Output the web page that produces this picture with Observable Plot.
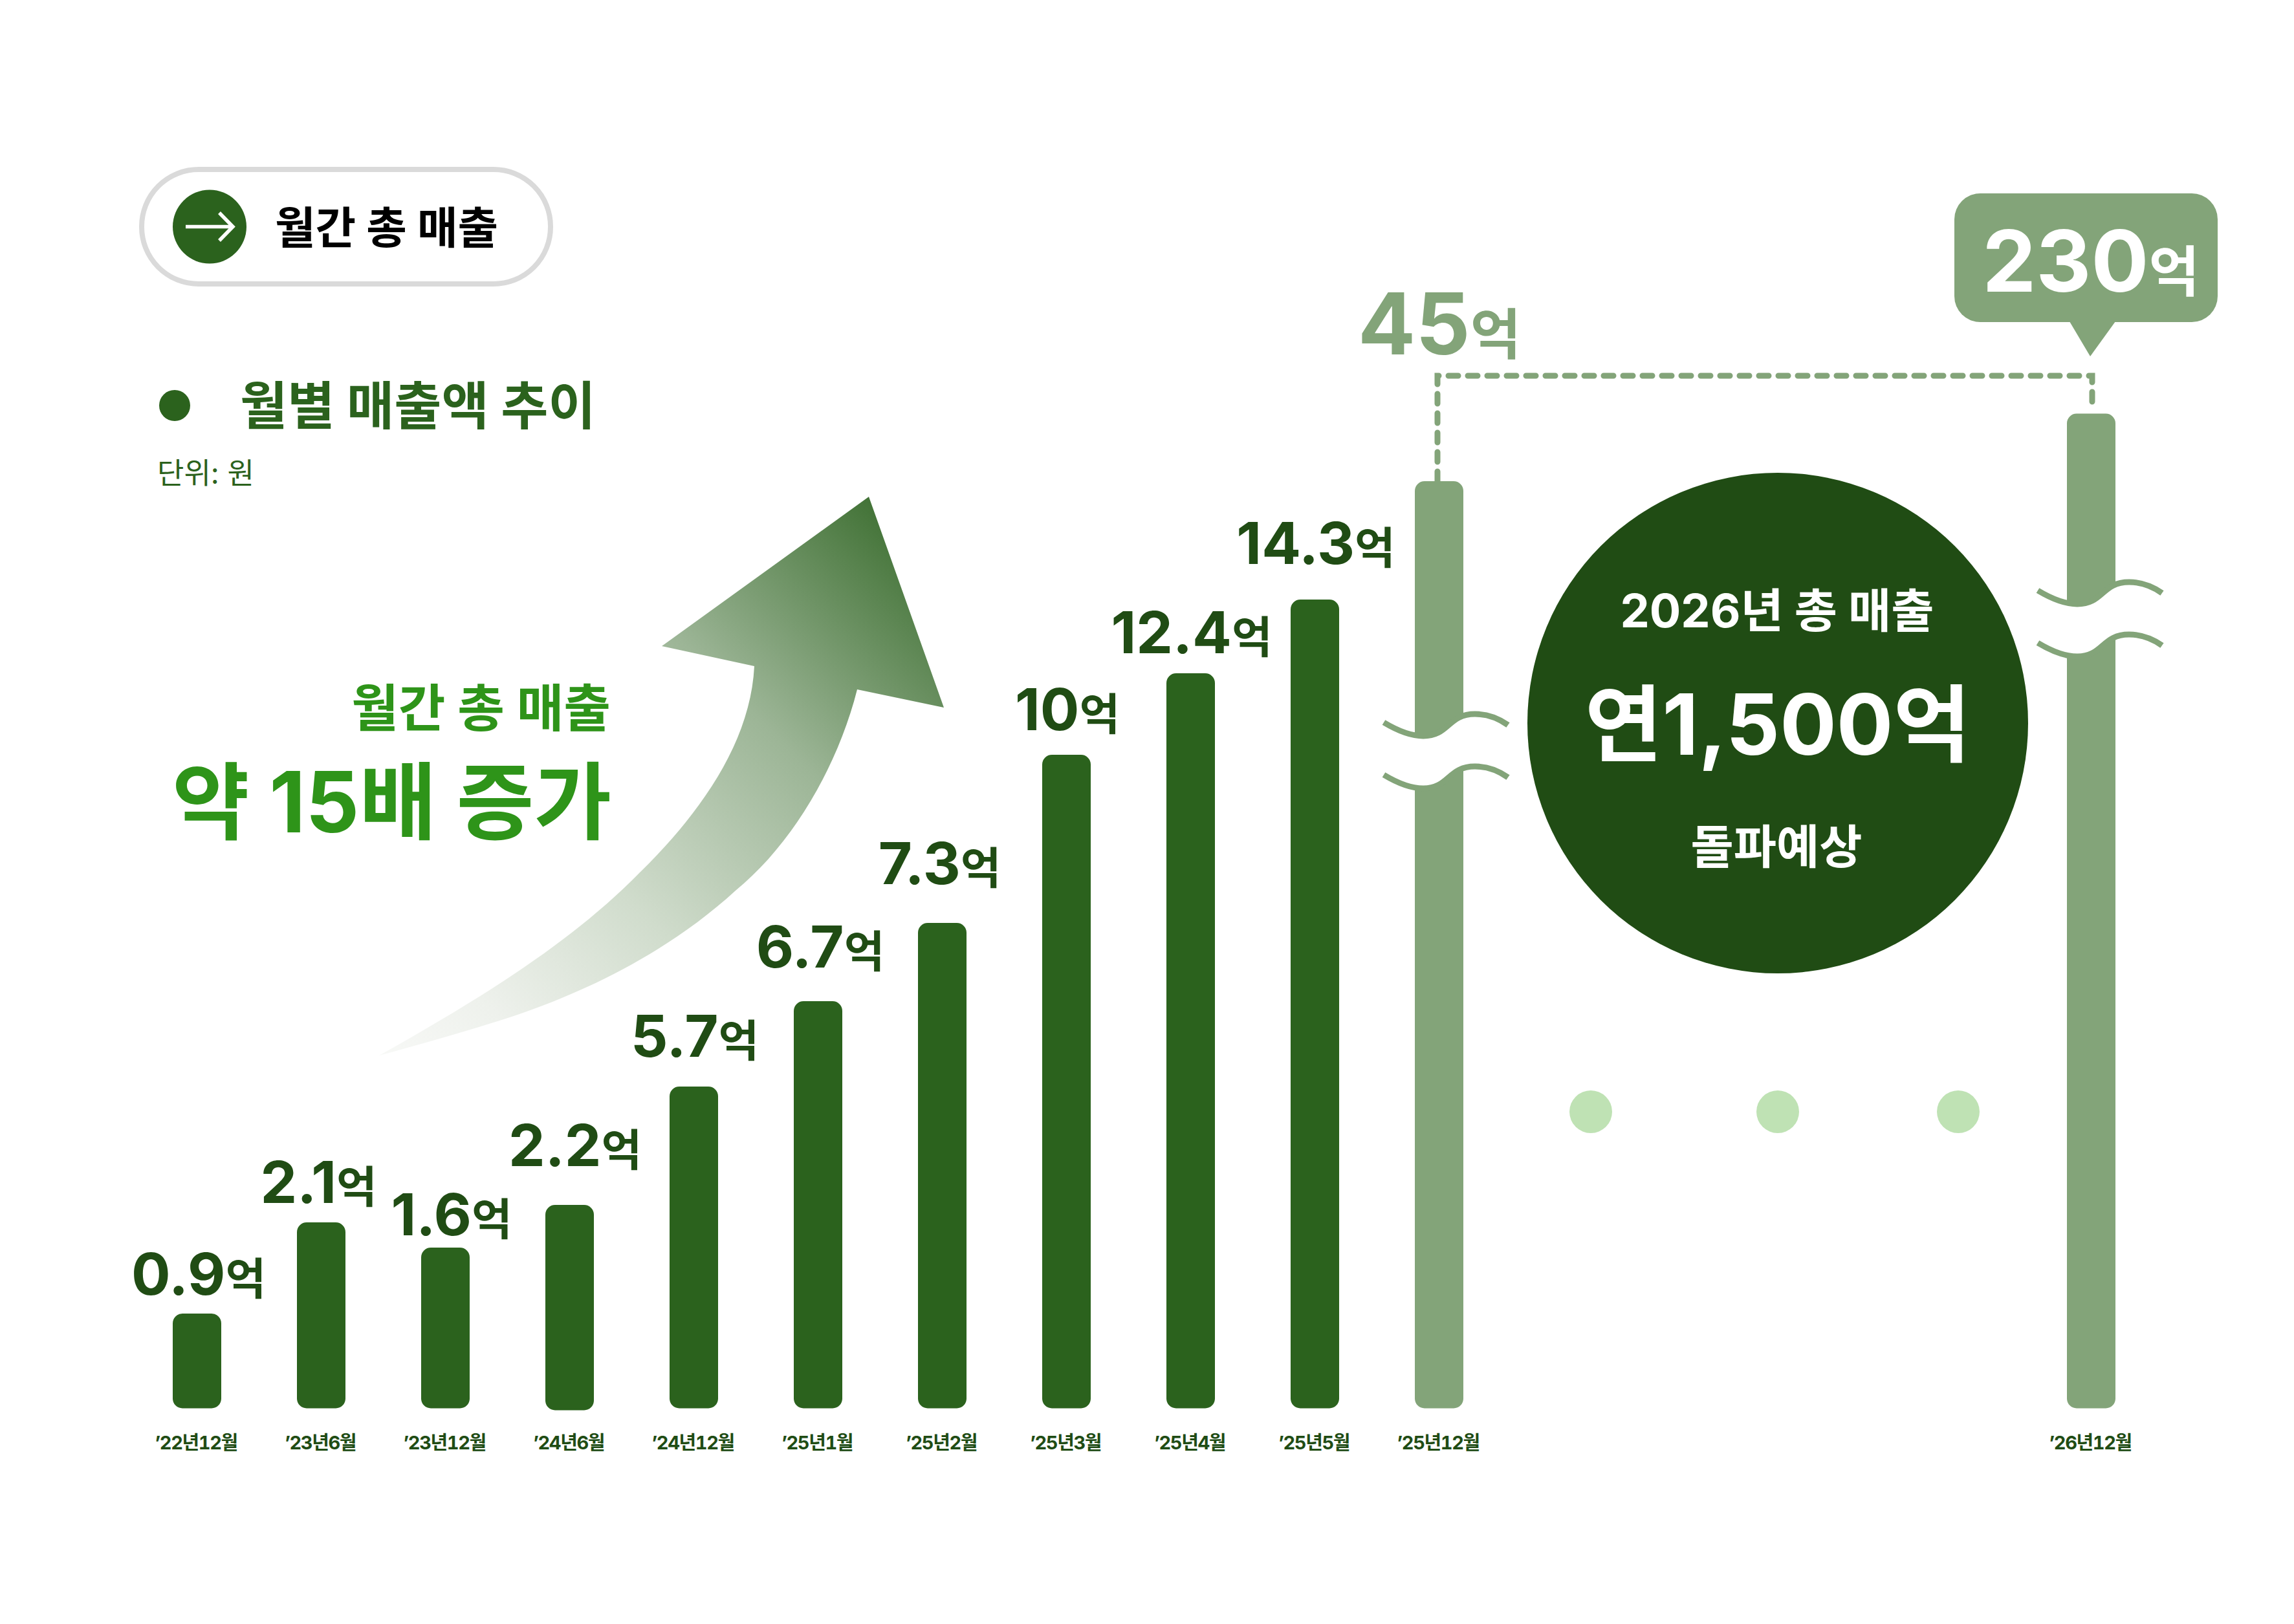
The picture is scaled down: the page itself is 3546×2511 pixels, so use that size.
<!DOCTYPE html>
<html lang="ko">
<head>
<meta charset="utf-8">
<script src="https://cdn.jsdelivr.net/npm/d3@7"></script>
<script src="https://cdn.jsdelivr.net/npm/@observablehq/plot@0.6"></script>
<style>
html,body{margin:0;padding:0;background:#fff}
svg{display:block}
</style>
</head>
<body>
<div id="chart"></div>
<script>
// chart data
const months = ["’22년12월","’23년6월","’23년12월","’24년6월","’24년12월","’25년1월","’25년2월","’25년3월","’25년4월","’25년5월","’25년12월","’26년12월"];
const sales  = [0.9,2.1,1.6,2.2,5.7,6.7,7.3,10,12.4,14.3,45,230];
const salesLabels = ["0.9","2.1","1.6","2.2","5.7","6.7","7.3","10","12.4","14.3","45","230"];
const slots = [0,1,2,3,4,5,6,7,8,9,10,15.25];
const barFloor = [0,0,0,-0.018,0,0,0,0,0,0,0,0];

// the picture's axis is not to scale: stops of the (broken) value axis as read from it
const yStops = [0,0.9,1.6,2.1,2.2,5.7,6.7,7.3,10,12.4,14.3,45,230];
const yStopPixels = [2177.5,2031,1929,1890,1863,1680,1548,1427,1167,1041,927,744,639.5];

// label placement options
const labelLift = [30,31,20,61,47,53,61,39,32,56,0,0];
const labelShift = [2,-4.5,9,8,1,3,-4.5,1,1,1,0,0];

const GREEN="#2b621d", DARK="#204c14", LIGHT="#83a479", ACCENT="#2e9419", PALE="#bfe2b4";
const FONT="Inter, 'Noto Sans CJK KR', sans-serif";

const bars = months.map((m,i)=>({month:m, value:sales[i], label:salesLabels[i], slot:slots[i], floor:barFloor[i], forecast:sales[i]>=45}));
const halfBar = 37.5/192;

function txt(g,x,y,parts,o={}){
  const t=g.append("text").attr("x",x).attr("y",y)
    .attr("font-family",FONT).attr("font-size",o.size).attr("font-weight",o.weight||700)
    .attr("fill",o.fill).attr("text-anchor",o.anchor||"start");
  if(o.spacing!=null) t.attr("letter-spacing",o.spacing);
  [].concat(parts).forEach(p=>{
    if(typeof p==="string") t.append("tspan").text(p);
    else t.append("tspan").attr("font-size",p.size).text(p.t);
  });
  return t;
}

function backdrop(){
  const g=d3.create("svg:g");
  const defs=g.append("defs");
  const grad=defs.append("linearGradient").attr("id","rise").attr("gradientUnits","userSpaceOnUse")
    .attr("x1",1440).attr("y1",830).attr("x2",610).attr("y2",1660);
  grad.append("stop").attr("offset",0).attr("stop-color","#3c6e30");
  grad.append("stop").attr("offset",0.33).attr("stop-color","#9cb596");
  grad.append("stop").attr("offset",0.62).attr("stop-color","#d0dccc");
  grad.append("stop").attr("offset",0.85).attr("stop-color","#eef1ec");
  grad.append("stop").attr("offset",1).attr("stop-color","#f8f9f7");
  g.append("path").attr("fill","url(#rise)")
    .attr("d","M1343 768 L1459 1094 L1325 1066 C1295 1185 1225 1305 1137 1377 C1030 1475 900 1535 797 1570 C720 1595 650 1615 586 1632 C740 1545 880 1460 988 1350 C1080 1260 1160 1150 1166 1030 L1023 999 Z");

  // header pill
  g.append("rect").attr("x",219).attr("y",262).attr("width",632).attr("height",177).attr("rx",88)
    .attr("fill","#fff").attr("stroke","#dadada").attr("stroke-width",8);
  g.append("circle").attr("cx",324).attr("cy",350.5).attr("r",57).attr("fill",GREEN);
  g.append("path").attr("d","M287 350.5 H360 M339 329 L360 350.5 L339 372").attr("fill","none").attr("stroke","#fff").attr("stroke-width",5.5);
  txt(g,425,377,"월간 총 매출",{size:68,fill:"#000"});

  // legend
  g.append("circle").attr("cx",270).attr("cy",627).attr("r",24).attr("fill",GREEN);
  txt(g,371,656,"월별 매출액 추이",{size:79.5,fill:GREEN});
  txt(g,243,748,"단위: 원",{size:45,weight:400,fill:GREEN});

  // growth note
  txt(g,944,1124,"월간 총 매출",{size:79,fill:ACCENT,anchor:"end"});
  txt(g,945,1287,"약 15배 증가",{size:130,fill:ACCENT,anchor:"end"});
  return g.node();
}

function overlay(){
  const g=d3.create("svg:g");
  // dashed connector
  g.append("path").attr("d","M2222 744 V581 H3234 V630").attr("fill","none").attr("stroke",LIGHT)
    .attr("stroke-width",9).attr("stroke-dasharray","15 15").attr("stroke-linecap","round");
  // breaks
  const wave="c20 12 40 21 61 21 c40 0 38 -34 80 -34 c19 0 37 7 51 17";
  for(const [x,y] of [[2139,1117],[3150,913]]){
    g.append("path").attr("d",`M${x} ${y} ${wave} v81 c-14 -10 -32 -17 -51 -17 c-42 0 -40 34 -80 34 c-21 0 -41 -9 -61 -21 Z`).attr("fill","#fff");
    g.append("path").attr("d",`M${x} ${y} ${wave}`).attr("fill","none").attr("stroke",LIGHT).attr("stroke-width",9);
    g.append("path").attr("d",`M${x} ${y+81} ${wave}`).attr("fill","none").attr("stroke",LIGHT).attr("stroke-width",9);
  }
  // callout
  g.append("rect").attr("x",3021).attr("y",299).attr("width",407).attr("height",199).attr("rx",40).attr("fill",LIGHT);
  g.append("path").attr("d","M3199 497 H3270 L3231 551 Z").attr("fill",LIGHT);
  txt(g,3232,451,["230",{t:"억",size:85}],{size:132,fill:"#fff",anchor:"middle"});

  // summary circle
  g.append("circle").attr("cx",2748).attr("cy",1118).attr("r",387).attr("fill",DARK);
  txt(g,2747,970,"2026년 총 매출",{size:72,weight:700,fill:"#fff",anchor:"middle"});
  txt(g,2748,1167,"연1,500억",{size:130,fill:"#fff",anchor:"middle"});
  txt(g,2746,1335,"돌파예상",{size:72,weight:700,fill:"#fff",anchor:"middle"});

  // ellipsis
  for(const x of [2459,2748,3027]) g.append("circle").attr("cx",x).attr("cy",1719).attr("r",33).attr("fill",PALE);
  return g.node();
}

const plain = bars.filter(d=>d.value<=14.3);
const chart = Plot.plot({
  width:3546, height:2511,
  marginTop:0, marginLeft:0, marginRight:0, marginBottom:333.5,
  style:{fontFamily:FONT, background:"#fff", overflow:"visible"},
  x:{type:"linear", domain:[0,1], range:[304.5,496.5], axis:null},
  y:{type:"linear", domain:yStops, range:yStopPixels, axis:null},
  marks:[
    backdrop,
    Plot.rectY(bars,{
      x1:d=>d.slot-halfBar, x2:d=>d.slot+halfBar, y1:"floor", y2:"value",
      fill:d=>d.forecast?LIGHT:GREEN, rx:15
    }),
    overlay,
    ...plain.map(d=>{
      const i=bars.indexOf(d);
      return Plot.text([d],{x:"slot",y:"value",text:d=>d.label+"억",dx:labelShift[i],dy:-labelLift[i],
        fontSize:90,fontWeight:700,fill:DARK,lineAnchor:"bottom",textAnchor:"middle",className:"vlabel"});
    }),
    Plot.text([bars[10]],{x:"slot",y:()=>45,text:d=>d.label+"억",dy:-197,
      fontSize:132,fontWeight:700,fill:LIGHT,lineAnchor:"bottom",textAnchor:"middle",className:"vlabel"}),
    Plot.axisX(slots,{
      anchor:"bottom", tickSize:0, tickPadding:42, label:null, dx:-2,
      tickFormat:s=>months[slots.indexOf(s)],
      fontSize:29, fontWeight:700, fill:DARK, className:"monthlabel"
    })
  ]
});

// tighter month labels
chart.querySelectorAll("[class~='monthlabel']").forEach(g=>g.setAttribute("letter-spacing","-1.4"));

// smaller unit glyph after the digits of each value label
chart.querySelectorAll("[class~='vlabel'] text").forEach(t=>{
  const s=t.textContent, big=parseFloat(t.parentNode.getAttribute("font-size"))||90;
  t.textContent="";
  const ns="http://www.w3.org/2000/svg";
  const a=document.createElementNS(ns,"tspan"); a.textContent=s.slice(0,-1);
  const b=document.createElementNS(ns,"tspan"); b.textContent=s.slice(-1); b.setAttribute("font-size",big>100?85:68);
  t.append(a,b);
});
document.getElementById("chart").append(chart);
</script>
</body>
</html>
